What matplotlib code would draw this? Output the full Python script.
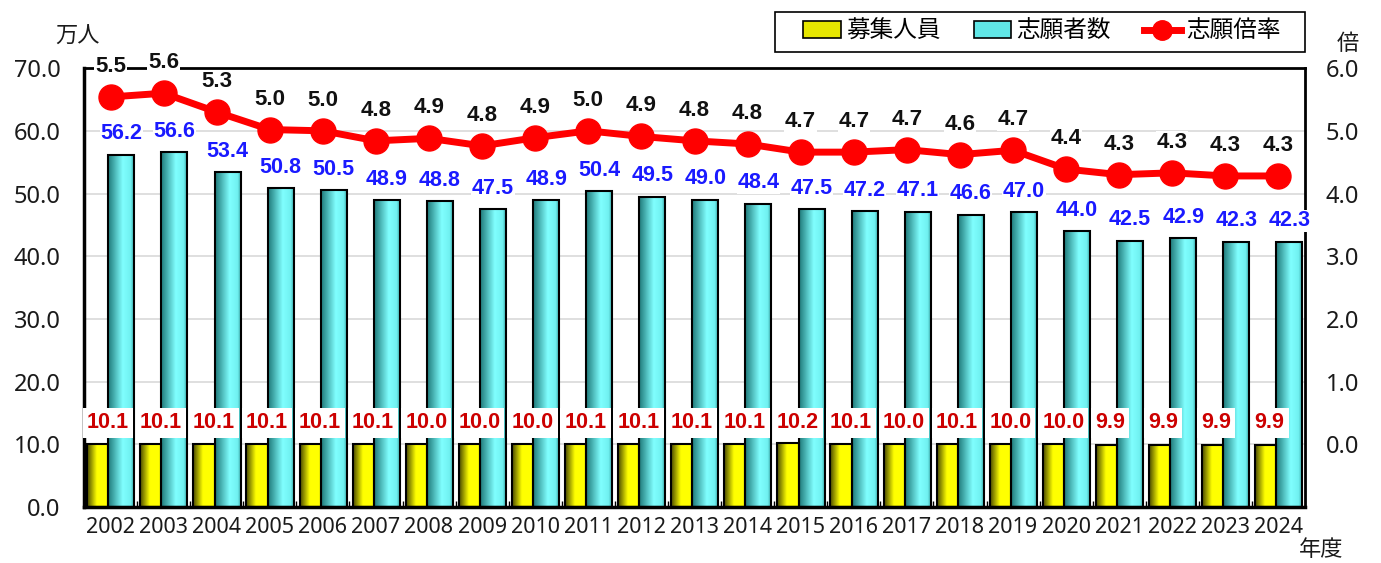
import numpy as np
import matplotlib.pyplot as plt
from matplotlib.colors import LinearSegmentedColormap
from matplotlib.patches import Patch, Rectangle
from matplotlib.lines import Line2D

plt.rcParams['font.family'] = ['Noto Sans', 'Noto Sans CJK JP']

# データ
years = ['2002', '2003', '2004', '2005', '2006', '2007', '2008', '2009', '2010', '2011', '2012',
         '2013', '2014', '2015', '2016', '2017', '2018', '2019', '2020', '2021', '2022', '2023', '2024']
boshu = [10.1, 10.1, 10.1, 10.1, 10.1, 10.1, 10.0, 10.0, 10.0, 10.1, 10.1,
         10.1, 10.1, 10.2, 10.1, 10.0, 10.1, 10.0, 10.0, 9.9, 9.9, 9.9, 9.9]
shigan = [56.2, 56.6, 53.4, 50.8, 50.5, 48.9, 48.8, 47.5, 48.9, 50.4, 49.5,
          49.0, 48.4, 47.5, 47.2, 47.1, 46.6, 47.0, 44.0, 42.5, 42.9, 42.3, 42.3]
bairitsu = [5.54, 5.60, 5.30, 5.02, 5.00, 4.84, 4.88, 4.76, 4.89, 5.00, 4.91,
            4.84, 4.79, 4.66, 4.66, 4.70, 4.62, 4.69, 4.39, 4.30, 4.33, 4.28, 4.28]

x = np.arange(len(years))

fig = plt.figure(figsize=(13.81, 5.63), dpi=100)
ax1 = fig.add_axes([0.0608, 0.0995, 0.8842, 0.7795])
ax2 = ax1.twinx()

cmap_y = LinearSegmentedColormap.from_list('y', [(0, '#4a4a00'), (0.45, '#ffff00'), (1, '#ffff00')])
cmap_c = LinearSegmentedColormap.from_list('c', [(0, '#1f7a7a'), (0.55, '#80ffff'), (0.85, '#70f0f0'), (1, '#2f9a9a')])
grad = np.linspace(0, 1, 64).reshape(1, -1)


def gradient_bars(ax, xs, heights, width, cmap):
    bars = ax.bar(xs, heights, width, facecolor='none', edgecolor='black', linewidth=1.5, zorder=3)
    for b in bars:
        x0, y0 = b.get_x(), b.get_y()
        im = ax.imshow(grad, cmap=cmap, aspect='auto', zorder=2,
                       extent=[x0, x0 + b.get_width(), y0, y0 + b.get_height()])
        im.set_clip_path(b)
    return bars


gradient_bars(ax1, x - 0.24, boshu, 0.40, cmap_y)
gradient_bars(ax1, x + 0.205, shigan, 0.49, cmap_c)

ax1.set_xlim(-0.5, len(years) - 0.5)
ax1.set_ylim(0, 70)
ax1.set_yticks(np.arange(0, 71, 10))
ax1.set_yticklabels([f'{v:.1f}' for v in np.arange(0, 71, 10)], fontsize=17, color='#1a1a1a')
ax1.tick_params(axis='y', length=0, pad=17)
ax1.set_xticks(x)
ax1.set_xticklabels(years, fontsize=15.5, color='#1a1a1a')
ax1.tick_params(axis='x', which='major', length=0, pad=7)
ax1.set_xticks(x[:-1] + 0.5, minor=True)
ax1.tick_params(axis='x', which='minor', direction='in', length=4, width=1)
ax1.yaxis.grid(True, color='#d9d9d9', linewidth=1.2, zorder=0)
ax1.set_axisbelow(True)
ax1.spines['left'].set_linewidth(2.5)
ax1.spines['bottom'].set_linewidth(2.5)
ax1.spines['top'].set_visible(False)
ax1.spines['right'].set_visible(False)

# 志願倍率
ax2.plot(x, bairitsu, color='#ff0000', linewidth=5, marker='o', markersize=18, zorder=4)
ax2.set_ylim(-1, 6)
ax2.set_yticks(np.arange(0, 7, 1))
ax2.set_yticklabels([f'{v:.1f}' for v in np.arange(0, 7, 1)], fontsize=17, color='#1a1a1a')
ax2.tick_params(axis='y', length=0, pad=15)
ax2.spines['left'].set_visible(False)
ax2.spines['bottom'].set_visible(False)
ax2.spines['top'].set_linewidth(2)
ax2.spines['right'].set_linewidth(2)

# ラベル
lab = dict(family=['Liberation Sans', 'DejaVu Sans'], fontweight='bold', va='center', zorder=6)
for i in x:
    ax2.annotate(f'{bairitsu[i]:.1f}', (i, bairitsu[i]), xytext=(0, 22), textcoords='offset points',
                 ha='center', fontsize=16, color='#111111', bbox=dict(fc='white', ec='none', pad=0.5), **lab)
    ax2.annotate(f'{shigan[i]:.1f}', (i + 0.205, shigan[i]), xycoords=ax1.transData,
                 xytext=(0, 15), textcoords='offset points',
                 ha='center', fontsize=15.5, color='#1a1aff', bbox=dict(fc='white', ec='none', pad=0.5), **lab)
    ax2.annotate(f'{boshu[i]:.1f}', (i - 0.45, 13.4), xycoords=ax1.transData,
                 ha='left', fontsize=15.5, color='#cc0000', bbox=dict(fc='white', ec='none', pad=3), **lab)

fig.text(77 / 1381, 1 - 37 / 563, '万人', fontsize=16, ha='center', va='center', color='#1a1a1a')
fig.text(1348 / 1381, 1 - 45 / 563, '倍', fontsize=16, ha='center', va='center', color='#1a1a1a')
fig.text(1321 / 1381, 1 - 550 / 563, '年度', fontsize=16, ha='center', va='center', color='#1a1a1a')

# 凡例
fig.patches.append(Rectangle((775 / 1381, 1 - 52 / 563), 530 / 1381, 40 / 563, transform=fig.transFigure,
                             facecolor='white', edgecolor='black', linewidth=1.2, zorder=5))
handles = [Patch(facecolor='#e6e600', edgecolor='black', linewidth=1.2),
           Patch(facecolor='#60e6e6', edgecolor='black', linewidth=1.2),
           Line2D([], [], color='#ff0000', linewidth=5, marker='o', markersize=14)]
leg = fig.legend(handles, ['募集人員', '志願者数', '志願倍率'], loc='center',
                 bbox_to_anchor=(1042 / 1381, 1 - 32 / 563), ncol=3, fontsize=17,
                 frameon=False, borderpad=0, borderaxespad=0,
                 handlelength=1.6, handletextpad=0.2, columnspacing=1.4)
leg.set_zorder(6)

fig.savefig('out.png', dpi=100)
